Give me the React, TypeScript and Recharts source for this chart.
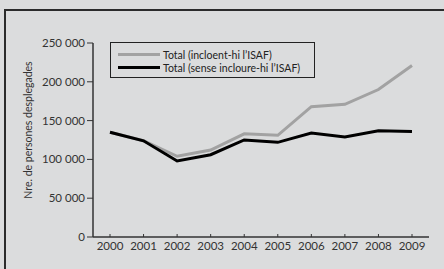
import { CartesianGrid, Legend, Line, LineChart, XAxis, YAxis } from 'recharts';

const YEARS = ['2000', '2001', '2002', '2003', '2004', '2005', '2006', '2007', '2008', '2009'];
const AMB_ISAF = [135000, 124000, 104000, 112000, 133000, 131000, 168000, 171000, 190000, 221000];
const SENSE_ISAF = [135000, 124000, 98000, 106000, 125000, 122000, 134000, 129000, 137000, 136000];
const Y_TICKS = [0, 50000, 100000, 150000, 200000, 250000];

const data = YEARS.map((year, i) => ({
  year,
  amb: AMB_ISAF[i],
  sense: SENSE_ISAF[i],
}));

const FONT = 'Lato, "DejaVu Sans", sans-serif';
const formatTick = (v: number) => String(v).replace(/\B(?=(\d{3})+(?!\d))/g, ' ');

function LegendBox({ payload }: any) {
  // grey series first, like the reference
  const items = [...(payload || [])].sort((a: any, b: any) => (a.dataKey === 'amb' ? -1 : b.dataKey === 'amb' ? 1 : 0));
  return (
    <div
      style={{
        border: '1px solid #222',
        width: 205,
        height: 36,
        padding: '5px 0 0 7px',
        boxSizing: 'border-box',
        fontFamily: FONT,
        fontSize: 10.5,
        color: '#222',
      }}
    >
      {items.map((item: any) => (
        <div key={item.value} style={{ display: 'flex', alignItems: 'center', height: 13 }}>
          <span style={{ display: 'inline-block', width: 42, height: 3, background: item.color, marginRight: 3 }} />
          <span>{item.value}</span>
        </div>
      ))}
    </div>
  );
}

export default function App() {
  return (
    <div style={{ position: 'absolute', left: 0, top: 0, width: 444, height: 269, background: '#dbdcdd', overflow: 'hidden' }}>
      <div
        style={{
          position: 'absolute',
          left: 4,
          top: 9,
          width: 460,
          height: 280,
          borderTop: '2px solid #2b2b2b',
          borderLeft: '2px solid #2b2b2b',
        }}
      />
      <LineChart width={444} height={269} data={data} margin={{ top: 7, right: 15, bottom: 2, left: 0 }} style={{ position: 'absolute', left: 0, top: 0 }}>
        <CartesianGrid vertical={false} horizontal={false} />
        <XAxis
          dataKey="year"
          padding={{ left: 17, right: 17 }}
          height={30}
          axisLine={{ stroke: '#333', strokeWidth: 1.5 }}
          tickLine={{ stroke: '#333' }}
          tickSize={-3}
          tickMargin={8}
          tick={{ fill: '#333', fontSize: 11.5, fontFamily: FONT }}
          interval={0}
        />
        <YAxis
          width={93}
          domain={[0, 250000]}
          ticks={Y_TICKS}
          tickFormatter={formatTick}
          axisLine={{ stroke: '#333', strokeWidth: 1.5 }}
          tickLine={{ stroke: '#333' }}
          tickSize={6}
          tickMargin={2}
          tick={{ fill: '#333', fontSize: 11.5, fontFamily: FONT }}
          label={{
            value: 'Nre. de persones desplegades',
            angle: -90,
            position: 'insideLeft',
            offset: 28,
            dy: -10,
            style: { fill: '#333', fontSize: 10.5, fontFamily: FONT, textAnchor: 'middle' },
          }}
        />
        <Legend
          content={<LegendBox />}
          verticalAlign="top"
          wrapperStyle={{ position: 'absolute', left: 110, top: 42, width: 205 }}
        />
        <Line
          dataKey="amb"
          name="Total (incloent-hi l’ISAF)"
          stroke="#a2a2a2"
          strokeWidth={3}
          dot={false}
          isAnimationActive={false}
        />
        <Line
          dataKey="sense"
          name="Total (sense incloure-hi l’ISAF)"
          stroke="#000"
          strokeWidth={3}
          dot={false}
          isAnimationActive={false}
        />
      </LineChart>
    </div>
  );
}
